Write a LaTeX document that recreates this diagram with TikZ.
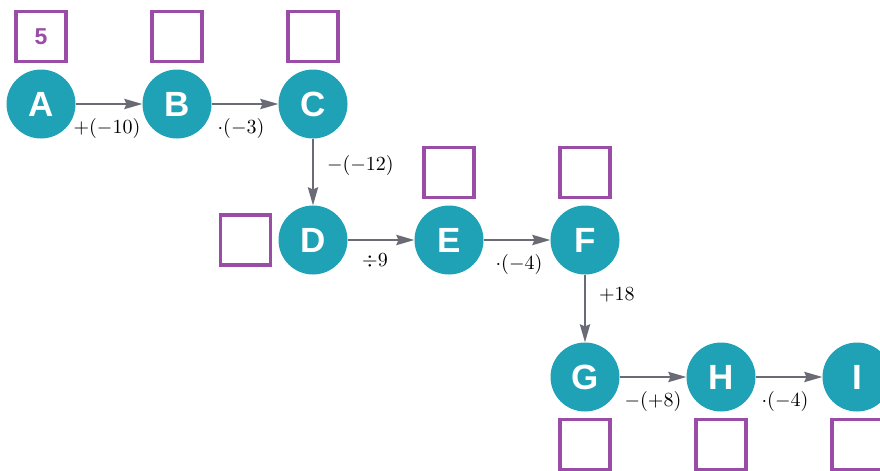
\documentclass[tikz,border=0pt]{standalone}
\usepackage{fontspec}
\setsansfont{Liberation Sans}
\usetikzlibrary{arrows.meta}
\definecolor{stationteal}{HTML}{1FA2B5}
\definecolor{answerpurple}{HTML}{9A4DA6}
\definecolor{linkgray}{HTML}{6B6B76}

\begin{document}
\begin{tikzpicture}[x=0.5pt,y=-0.5pt,
    station/.style={circle,fill=stationteal,minimum size=34.5pt,inner sep=0pt,outer sep=0pt,
        text=white,font=\sffamily\bfseries\fontsize{17.5}{18}\selectfont},
    answer/.style={rectangle,draw=answerpurple,line width=1.6pt,minimum size=25pt,inner sep=0pt,
        text=answerpurple,font=\sffamily\bfseries\fontsize{11.5}{12}\selectfont},
    link/.style={draw=linkgray,line width=1.35pt,-{Stealth[length=9pt,width=5pt,inset=1pt]}}]
    \useasboundingbox (0,0) rectangle (880,471);
    \clip (0,0) rectangle (880,471);

    \node[station] (A) at (41,104) {A};
    \node[station] (B) at (177,104) {B};
    \node[station] (C) at (313,104) {C};
    \node[station] (D) at (313,240) {D};
    \node[station] (E) at (449,240) {E};
    \node[station] (F) at (585,240) {F};
    \node[station] (G) at (585,377) {G};
    \node[station] (H) at (721,377) {H};
    \node[station] (I) at (857,377) {I};

    \node[answer] (bA) at (41,36.5) {5};
    \node[answer] (bB) at (177,36.5) {};
    \node[answer] (bC) at (313,36.5) {};
    \node[answer] (bD) at (245.5,240) {};
    \node[answer] (bE) at (449,172.5) {};
    \node[answer] (bF) at (585,172.5) {};
    \node[answer] (bG) at (585,444.5) {};
    \node[answer] (bH) at (721,444.5) {};
    \node[answer] (bI) at (857,444.5) {};

    \draw[link] (A) -- node[below=3pt,xshift=-1pt] {$+(-10)$} (B);
    \draw[link] (B) -- node[below=3pt,xshift=-2pt] {$\cdot(-3)$} (C);
    \draw[link] (C) -- node[pos=0.4,right=3pt] {$-(-12)$} (D);
    \draw[link] (D) -- node[below=3pt,xshift=-3pt] {$\div 9$} (E);
    \draw[link] (E) -- node[below=3pt,xshift=1pt] {$\cdot(-4)$} (F);
    \draw[link] (F) -- node[pos=0.3,right=3pt] {$+18$} (G);
    \draw[link] (G) -- node[below=3pt] {$-(+8)$} (H);
    \draw[link] (H) -- node[below=3pt,xshift=-2pt] {$\cdot(-4)$} (I);
\end{tikzpicture}
\end{document}
